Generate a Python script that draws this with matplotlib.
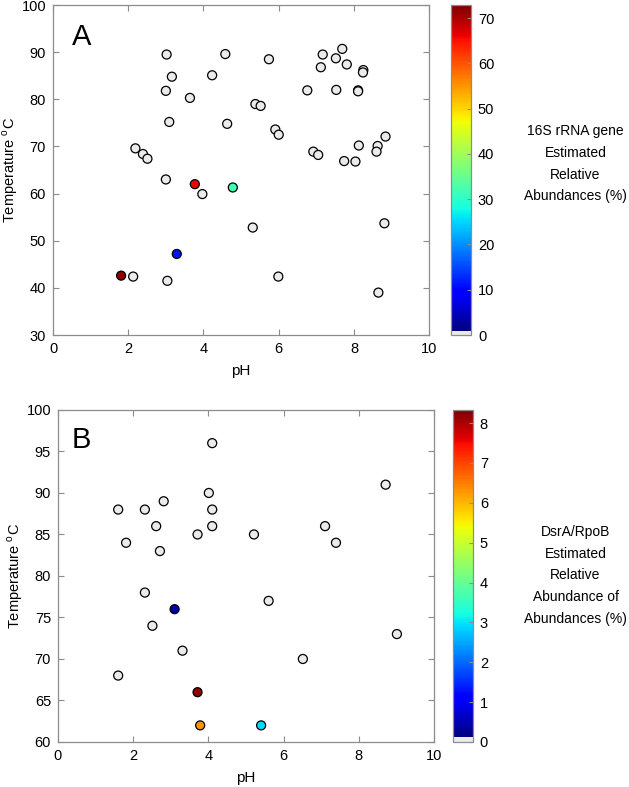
import numpy as np
import matplotlib
matplotlib.use("Agg")
import matplotlib.pyplot as plt
from matplotlib.colors import ListedColormap

plt.rcParams['font.family'] = ['Liberation Sans', 'DejaVu Sans']

# ---------------- Panel A data (16S rRNA gene) ----------------
a_ph = [3.02, 4.58, 5.74, 7.17, 7.52, 7.69, 7.12, 7.81, 8.25, 8.24,
        3.16, 4.23, 3.00, 3.64, 6.76, 7.53, 8.11, 8.11, 5.38, 5.52,
        3.09, 4.63, 5.91, 6.00, 2.19, 2.39, 2.51, 6.92, 7.05, 8.84,
        8.13, 8.63, 8.60, 7.74, 8.04, 3.00, 3.97, 5.31, 2.13, 3.04,
        5.99, 8.81, 8.65,
        1.81, 3.29, 3.77, 4.78]
a_temp = [89.5, 89.6, 88.5, 89.5, 88.7, 90.7, 86.8, 87.4, 86.2, 85.7,
          84.8, 85.1, 81.8, 80.3, 81.9, 82.0, 81.9, 81.7, 79.0, 78.6,
          75.2, 74.8, 73.6, 72.5, 69.6, 68.4, 67.4, 68.9, 68.2, 72.1,
          70.2, 70.1, 68.9, 66.9, 66.8, 63.0, 59.9, 52.8, 42.4, 41.5,
          42.4, 53.7, 39.0,
          42.6, 47.2, 62.0, 61.3]
a_abund = [0] * 43 + [72, 11, 66, 32]
a_vmax = 72.9
a_cbar_ticks = [0, 10, 20, 30, 40, 50, 60, 70]

# ---------------- Panel B data (DsrA/RpoB) ----------------
b_ph = [4.10, 4.01, 2.81, 4.10, 1.60, 2.31, 2.61, 4.10, 3.71, 5.21,
        7.10, 7.39, 1.81, 2.71, 2.31, 5.60, 2.51, 3.31, 6.51, 1.60,
        8.71, 9.01,
        3.10, 3.71, 3.78, 5.40]
b_temp = [96, 90, 89, 88, 88, 88, 86, 86, 85, 85,
          86, 84, 84, 83, 78, 77, 74, 71, 70, 68,
          91, 73,
          76, 66, 62, 62]
b_abund = [0] * 22 + [0.45, 8.2, 6.3, 2.9]
b_vmax = 8.33
b_cbar_ticks = [0, 1, 2, 3, 4, 5, 6, 7, 8]

ph_ticks = [0, 2, 4, 6, 8, 10]
a_temp_ticks = [30, 40, 50, 60, 70, 80, 90, 100]
b_temp_ticks = [60, 65, 70, 75, 80, 85, 90, 95, 100]

a_cbar_label = "16S rRNA gene\nEstimated\nRelative\nAbundances (%)"
b_cbar_label = "DsrA/RpoB\nEstimated\nRelative\nAbundance of\nAbundances (%)"

GRAY = '#ebebeb'
SPINE = '#8c8c8c'


def make_cmap(gray_frac):
    jet = plt.get_cmap('jet')(np.linspace(0, 1, 256))
    n = 256
    k = max(1, int(round(gray_frac * n)))
    cols = np.vstack([np.tile(matplotlib.colors.to_rgba(GRAY), (k, 1)), jet])
    return ListedColormap(cols)


fig = plt.figure(figsize=(6.29, 7.87), dpi=100)


def panel(ax_rect, cax_rect, ph, temp, abund, vmax, gray_frac, yticks, ylim,
          cticks, letter, letter_pos, clabel, clabel_y):
    ax = fig.add_axes(ax_rect)
    cmap = make_cmap(gray_frac)
    sc = ax.scatter(ph, temp, c=abund, cmap=cmap, vmin=0, vmax=vmax,
                    s=42, edgecolors='black', linewidths=0.9, zorder=3)
    ax.set_xlim(0, 10)
    ax.set_ylim(*ylim)
    ax.set_xticks(ph_ticks)
    ax.set_yticks(yticks)
    ax.tick_params(direction='in', length=4, width=0.8, color=SPINE,
                   top=True, right=True, labelsize=10.5, pad=5)
    for s in ax.spines.values():
        s.set_color(SPINE)
        s.set_linewidth(0.9)
    ax.set_xlabel('pH', fontsize=11, labelpad=6)
    ax.set_ylabel('Temperature $^\\mathregular{o}$C', fontsize=10.5, labelpad=1)
    ax.text(letter_pos[0], letter_pos[1], letter, transform=ax.transAxes,
            fontsize=21, ha='left', va='baseline')

    cax = fig.add_axes(cax_rect)
    cb = fig.colorbar(sc, cax=cax, ticks=cticks)
    cb.outline.set_edgecolor(SPINE)
    cb.outline.set_linewidth(0.9)
    cax.tick_params(direction='in', length=3, width=0.8, color=SPINE,
                    labelsize=10.5, pad=5)
    fig.text(0.915, clabel_y, clabel, ha='center', va='center',
             fontsize=10, linespacing=1.7)
    return ax


panel([0.0843, 0.5743, 0.598, 0.4193], [0.717, 0.5743, 0.0318, 0.4193],
      a_ph, a_temp, a_abund, a_vmax, 0.01, a_temp_ticks, (30, 100),
      a_cbar_ticks, 'A', (0.05, 0.879), a_cbar_label, 0.792)

panel([0.0922, 0.0572, 0.598, 0.4219], [0.720, 0.0572, 0.0318, 0.4219],
      b_ph, b_temp, b_abund, b_vmax, 0.015, b_temp_ticks, (60, 100),
      b_cbar_ticks, 'B', (0.037, 0.886), b_cbar_label, 0.269)

fig.savefig('out.png', dpi=100)
